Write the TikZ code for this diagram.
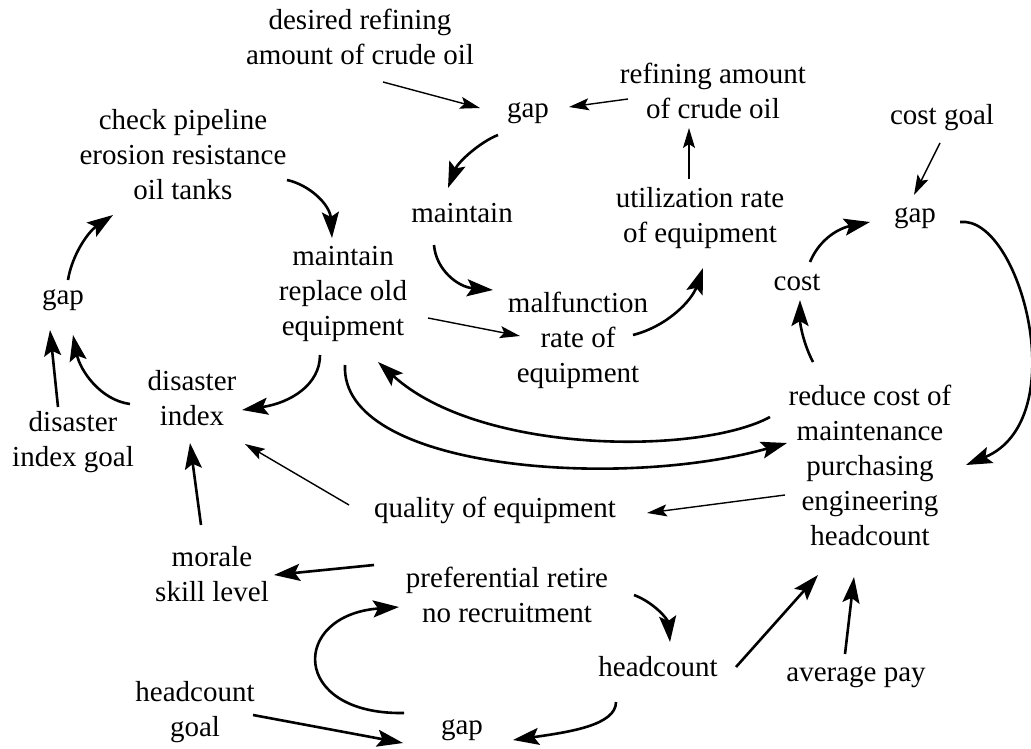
\documentclass[tikz,border=0pt]{standalone}
\usepackage{fontspec}
\setmainfont{Liberation Serif}
\newfontfamily\timesfnt{Liberation Serif}
\usetikzlibrary{arrows.meta,calc}
\begin{document}
\begin{tikzpicture}[x=1pt,y=-1pt,
  lbl/.style={align=center,inner sep=0pt,font=\timesfnt\fontsize{29}{35}\selectfont},
  bigarr/.style={line width=2.6pt,-{Stealth[length=26pt,width=17pt,inset=5pt]}},
  smallarr/.style={line width=1.4pt,-{Stealth[length=20pt,width=12pt,inset=4pt]}}]
\useasboundingbox (0,0) rectangle (1031,749);
% nodes
\node[lbl] (des)   at (360,37)  {desired refining\\amount of crude oil};
\node[lbl] (gapT)  at (528,113) {gap};
\node[lbl] (ref)   at (713,91)  {refining amount\\of crude oil};
\node[lbl] (chk)   at (183,155) {check pipeline\\erosion resistance\\oil tanks};
\node[lbl] (mnt)   at (462,213) {maintain};
\node[lbl] (util)  at (700,218) {utilization rate\\of equipment};
\node[lbl] (cgoal) at (942,118) {cost goal};
\node[lbl] (gapR)  at (915,218) {gap};
\node[lbl] (cost)  at (797,282) {cost};
\node[lbl] (gapL)  at (63,300)  {gap};
\node[lbl] (mrep)  at (343,294) {maintain\\replace old\\equipment};
\node[lbl] (malf)  at (578,340) {malfunction\\rate of\\equipment};
\node[lbl] (dis)   at (192,398) {disaster\\index};
\node[lbl] (dgoal) at (73,442)  {disaster\\index goal};
\node[lbl] (red)   at (870,465) {reduce cost of\\maintenance\\purchasing\\engineering\\headcount};
\node[lbl] (qual)  at (495,510) {quality of equipment};
\node[lbl] (mor)   at (212,574) {morale\\skill level};
\node[lbl] (pref)  at (507,595) {preferential retire\\no recruitment};
\node[lbl] (hc)    at (658,667) {headcount};
\node[lbl] (avg)   at (856,677) {average pay};
\node[lbl] (hgoal) at (195,712) {headcount\\goal};
\node[lbl] (gapB)  at (462,730) {gap};
% thin connectors
\draw[smallarr] ($(des)+(23,45)$) -- ($(gapT)+(-48,-5)$);
\draw[smallarr] ($(ref)+(-85,8)$) -- ($(gapT)+(41,-6)$);
\draw[smallarr] ($(util)+(-11,-39)$) -- ($(ref)+(-24,37)$);
\draw[smallarr] ($(cgoal)+(-2,25)$) -- ($(gapR)+(-1,-23)$);
\draw[smallarr] ($(mrep)+(85,24)$) -- ($(malf)+(-58,-4)$);
\draw[smallarr] ($(red)+(-85,30)$) -- ($(qual)+(152,3)$);
\draw[smallarr] ($(qual)+(-146,-5)$) -- ($(dis)+(53,46)$);
% thick connectors
\draw[bigarr] ($(gapT)+(-30,22)$) .. controls (480,142) and (458,162) .. ($(mnt)+(-14,-25)$);
\draw[bigarr] ($(mnt)+(-28,32)$) .. controls (436,270) and (458,287) .. ($(malf)+(-85,-50)$);
\draw[bigarr] ($(malf)+(55,-5)$) .. controls (668,326) and (692,300) .. ($(util)+(3,50)$);
\draw[bigarr] ($(cost)+(13,-20)$) .. controls (820,238) and (840,228) .. ($(gapR)+(-45,4)$);
\draw[bigarr] ($(red)+(-57,-103)$) .. controls (804,345) and (800,325) .. ($(cost)+(3,18)$);
\draw[bigarr] ($(gapR)+(45,4)$) .. controls (1020,215) and (1075,420) .. ($(red)+(96,0)$);
\draw[bigarr] ($(chk)+(104,25)$) .. controls (310,185) and (330,205) .. ($(mrep)+(-11,-56)$);
\draw[bigarr] ($(gapL)+(5,-20)$) .. controls (72,255) and (88,232) .. ($(chk)+(-70,60)$);
\draw[bigarr] ($(dgoal)+(-15,-35)$) -- ($(gapL)+(-13,30)$);
\draw[bigarr] ($(dis)+(-62,6)$) .. controls (100,400) and (80,370) .. ($(gapL)+(10,35)$);
\draw[bigarr] ($(mrep)+(-23,61)$) .. controls (320,385) and (290,403) .. ($(dis)+(50,12)$);
\draw[bigarr] ($(red)+(-100,-48)$) .. controls (700,455) and (480,455) .. ($(mrep)+(35,68)$);
\draw[bigarr] ($(mrep)+(2,71)$) .. controls (340,470) and (620,490) .. ($(red)+(-83,-22)$);
\draw[bigarr] ($(mor)+(-11,-49)$) -- ($(dis)+(-2,45)$);
\draw[bigarr] ($(pref)+(-133,-30)$) -- ($(mor)+(62,1)$);
\draw[bigarr] ($(gapB)+(-58,-17)$) .. controls (290,715) and (290,615) .. ($(pref)+(-108,12)$);
\draw[bigarr] ($(hgoal)+(58,3)$) -- ($(gapB)+(-59,13)$);
\draw[bigarr] ($(pref)+(127,0)$) .. controls (655,603) and (668,620) .. ($(hc)+(12,-25)$);
\draw[bigarr] ($(hc)+(-42,35)$) .. controls (616,725) and (570,732) .. ($(gapB)+(51,10)$);
\draw[bigarr] ($(hc)+(78,0)$) -- ($(red)+(-52,110)$);
\draw[bigarr] ($(avg)+(-11,-23)$) -- ($(red)+(-16,112)$);
\end{tikzpicture}
\end{document}
